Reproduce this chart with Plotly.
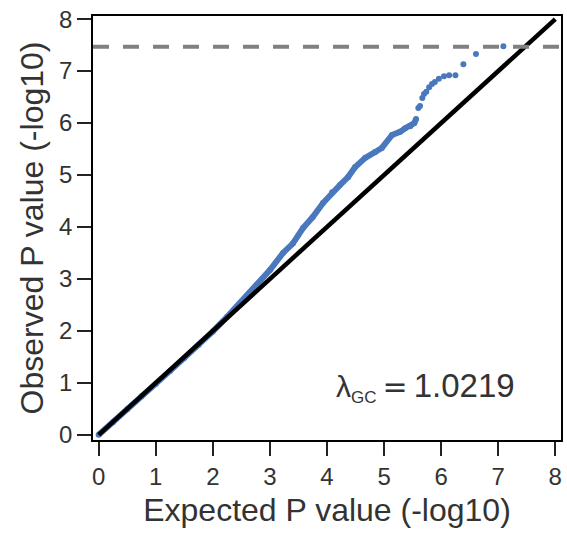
import plotly.graph_objects as go

# Expected vs observed -log10(P)
expected = [0.0, 0.25, 0.5, 0.75, 1.0, 1.25, 1.5, 1.75, 2.0, 2.25, 2.65, 3.0,
            3.23, 3.4, 3.58, 3.75, 3.93, 4.09, 4.23, 4.37, 4.49, 4.67, 4.84,
            4.96, 5.14, 5.28, 5.37, 5.46, 5.53, 5.56,
            5.6, 5.63, 5.67, 5.7, 5.74, 5.79, 5.84, 5.89, 5.96, 6.05, 6.14,
            6.25, 6.39, 6.61, 7.09]
observed = [0.0, 0.24, 0.49, 0.74, 0.98, 1.23, 1.48, 1.73, 1.99, 2.27, 2.73, 3.17,
            3.5, 3.68, 3.98, 4.19, 4.46, 4.67, 4.81, 4.96, 5.15, 5.33, 5.44,
            5.52, 5.77, 5.83, 5.9, 5.94, 6.0, 6.08,
            6.29, 6.33, 6.48, 6.56, 6.6, 6.69, 6.75, 6.79, 6.85, 6.9, 6.92,
            6.92, 7.13, 7.33, 7.48]
dense_count = 30  # points in the dense (continuous-looking) part of the curve

diag = [0, 8]
threshold = 7.47
lambda_gc = "1.0219"
x_range = [-0.1, 8.1]
y_range = [-0.1, 8.06]
tick_vals = [0, 1, 2, 3, 4, 5, 6, 7, 8]

blue = "#4a78bd"
fig = go.Figure()

fig.add_trace(go.Scatter(x=expected[:dense_count], y=observed[:dense_count],
                         mode="lines", line=dict(color=blue, width=6),
                         hoverinfo="skip", showlegend=False))
fig.add_trace(go.Scatter(x=expected, y=observed, mode="markers",
                         marker=dict(color=blue, size=6), showlegend=False))
fig.add_trace(go.Scatter(x=diag, y=diag, mode="lines",
                         line=dict(color="black", width=4.5), showlegend=False))
fig.add_trace(go.Scatter(x=x_range, y=[threshold, threshold], mode="lines",
                         line=dict(color="#808080", width=4, dash="16px,14px"),
                         showlegend=False))

label = ("λ<sub><span style='font-size:17px'>GC</span></sub>\u2009"
         "<span style='font-family:DejaVu Sans'>=</span>\u2009"
         "<span style='font-size:33px'>" + lambda_gc + "</span>")
fig.add_annotation(x=4.12, y=0.92, xref="x", yref="y", xanchor="left",
                   yanchor="middle", showarrow=False, text=label,
                   font=dict(family="Liberation Sans", size=30, color="#333333"))

axis_common = dict(
    showgrid=False, zeroline=False, showline=True, linecolor="black",
    linewidth=1.5, mirror=True, ticks="outside", ticklen=14, tickwidth=2,
    tickcolor="#222222", tickvals=tick_vals,
    tickfont=dict(family="Liberation Sans", size=24, color="#333333"),
)
fig.update_xaxes(range=x_range, title=dict(text="Expected P value (-log10)",
                 font=dict(family="Liberation Sans", size=32, color="#333333"),
                 standoff=10), **axis_common)
fig.update_yaxes(range=y_range, title=dict(text="Observed P value (-log10)",
                 font=dict(family="Liberation Sans", size=32, color="#333333"),
                 standoff=6), **axis_common)

fig.update_layout(width=567, height=535, margin=dict(l=93, r=4, t=16, b=95),
                  paper_bgcolor="white", plot_bgcolor="white", showlegend=False)

fig.write_html("out.html")
